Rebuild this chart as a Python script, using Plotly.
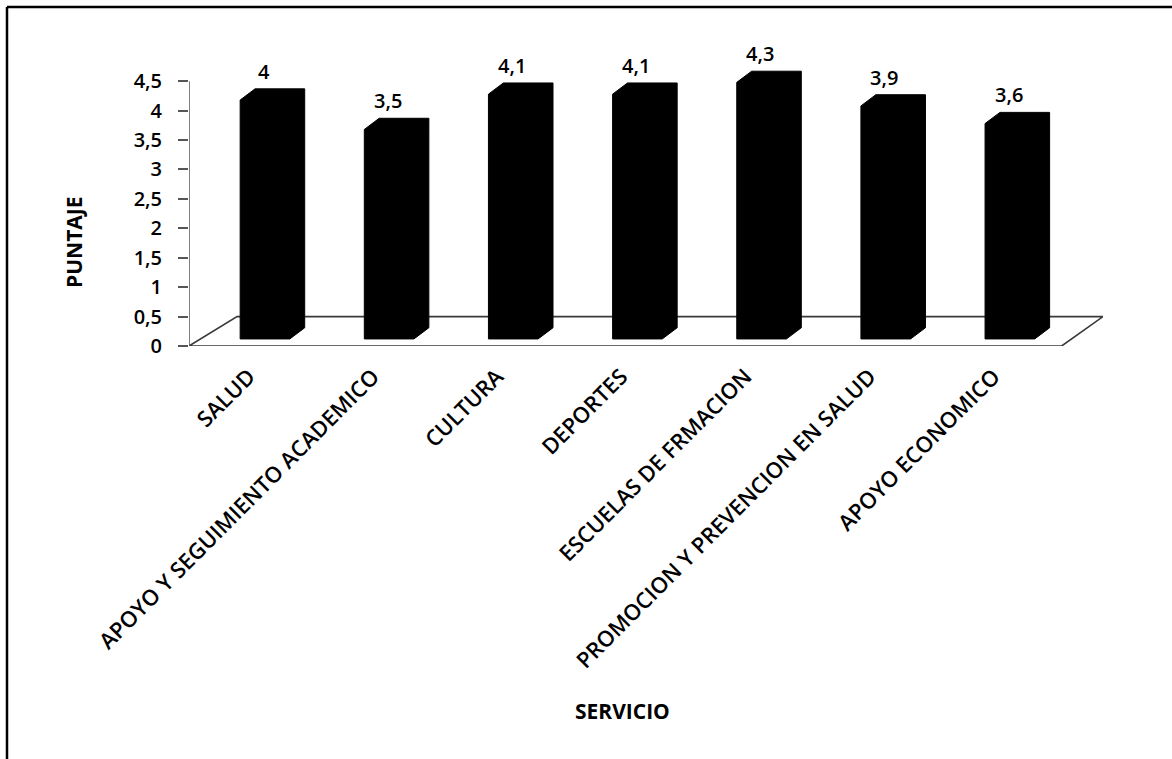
import plotly.graph_objects as go

# ---- data ----
categories = ["SALUD", "APOYO Y SEGUIMIENTO ACADEMICO", "CULTURA", "DEPORTES",
              "ESCUELAS DE FRMACION", "PROMOCION Y PREVENCION EN SALUD", "APOYO ECONOMICO"]
values = [4.0, 3.5, 4.1, 4.1, 4.3, 3.9, 3.6]
y_tickvals = [0, 0.5, 1, 1.5, 2, 2.5, 3, 3.5, 4, 4.5]
y_ticktext = ["0", "0,5", "1", "1,5", "2", "2,5", "3", "3,5", "4", "4,5"]

# ---- 3D-look geometry (in axis units) ----
half_w = 0.2        # half width of the bar front face (category units)
depth_dx = 0.12     # oblique depth offset, x
depth_dy = 0.19     # oblique depth offset, y
base_front = 0.12   # floor level at the bar front
top_offset = 0.18   # projection offset of the bar top
floor_depth = 0.5
y_axis_max = 4.5
y_view_max = 5.2    # room above the axis for the tallest bar and its label

FONT = "Open Sans"
W, H = 1172, 759
ML, MR, MT, MB = 189, 69, 40, 413
PW, PH = W - ML - MR, H - MT - MB


def fmt(v):
    return ("%g" % v).replace(".", ",")


def px(xp):   # page x pixel -> paper x
    return (xp - ML) / PW


def py(yp):   # page y pixel -> paper y
    return (H - MB - yp) / PH


fig = go.Figure()

for i, v in enumerate(values):
    x0, x1 = i - half_w, i + half_w
    b = base_front
    t = v + top_offset
    xs = [x0, x0, x0 + depth_dx, x1 + depth_dx, x1 + depth_dx, x1, x0]
    ys = [b, t, t + depth_dy, t + depth_dy, b + depth_dy, b, b]
    fig.add_trace(go.Scatter(x=xs, y=ys, mode="lines", fill="toself",
                             fillcolor="black", line=dict(color="black", width=1),
                             hoverinfo="skip", showlegend=False))
    fig.add_annotation(x=i - 0.01, y=t + depth_dy, text=fmt(v), showarrow=False,
                       yanchor="bottom", yshift=2,
                       font=dict(family=FONT, size=20, color="black", weight=600))

x_lo, x_hi = -0.612, 6.75
front_right = 6.417
back_left = -0.225

# floor parallelogram
fig.add_shape(type="path",
              path=f"M {x_lo},0 L {back_left},{floor_depth} L {x_hi},{floor_depth} L {front_right},0 Z",
              xref="x", yref="y", line=dict(color="#3a3a3a", width=1.6),
              fillcolor="rgba(0,0,0,0)", layer="below")

# value axis line (0 .. 4.5)
fig.add_shape(type="line", xref="x", yref="y", x0=x_lo, x1=x_lo, y0=0, y1=y_axis_max,
              line=dict(color="#555", width=1.5))

# outer frame (right and bottom edges fall outside the picture)
fig.add_shape(type="line", xref="paper", yref="paper",
              x0=px(7), y0=py(7), x1=px(1185), y1=py(7),
              line=dict(color="black", width=2.5))
fig.add_shape(type="line", xref="paper", yref="paper",
              x0=px(7), y0=py(7), x1=px(7), y1=py(775),
              line=dict(color="black", width=2.5))

# axis titles
fig.add_annotation(xref="paper", yref="paper", x=px(74), y=py(242), text="<b>PUNTAJE</b>",
                   textangle=-90, showarrow=False, xanchor="center", yanchor="middle",
                   font=dict(family=FONT, size=21, color="black"))
fig.add_annotation(xref="paper", yref="paper", x=px(622), y=py(711), text="<b>SERVICIO</b>",
                   showarrow=False, xanchor="center", yanchor="middle",
                   font=dict(family=FONT, size=21, color="black"))

fig.update_layout(
    width=W, height=H,
    margin=dict(l=ML, r=MR, t=MT, b=MB),
    paper_bgcolor="white", plot_bgcolor="white",
    showlegend=False,
    xaxis=dict(range=[x_lo, x_hi], tickvals=[k - 0.13 for k in range(len(categories))],
               ticktext=categories, tickangle=-45,
               tickfont=dict(family=FONT, size=22, color="black", weight=600),
               showgrid=False, zeroline=False, showline=False,
               ticks="outside", ticklen=8, tickcolor="rgba(0,0,0,0)"),
    yaxis=dict(range=[0, y_view_max], tickvals=y_tickvals, ticktext=y_ticktext,
               tickfont=dict(family=FONT, size=20, color="black", weight=600),
               showgrid=False, zeroline=False, showline=False,
               ticks="outside", ticklen=10, tickcolor="#555", tickwidth=1.5,
               ticklabelstandoff=12),
)

fig.write_html("out.html")
